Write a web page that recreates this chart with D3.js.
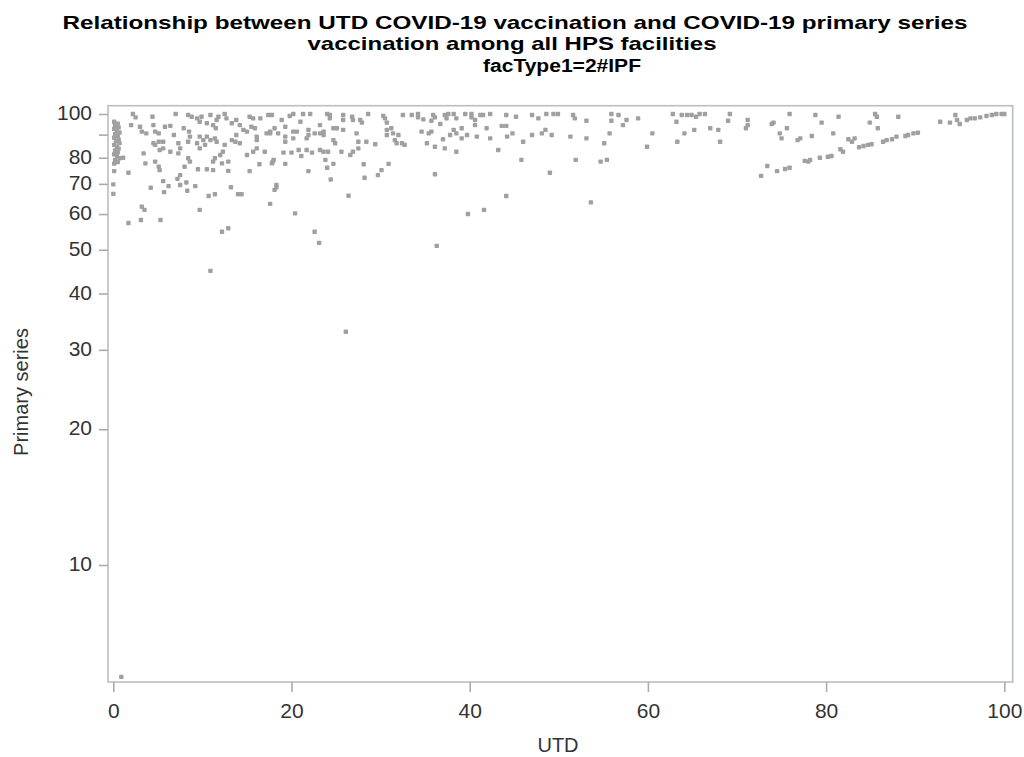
<!DOCTYPE html>
<html>
<head>
<meta charset="utf-8">
<script src="https://cdn.jsdelivr.net/npm/d3@7"></script>
<style>
  html, body { margin: 0; padding: 0; background: #fff; }
  svg { display: block; font-family: "Liberation Sans", Arial, sans-serif; }
</style>
</head>
<body>
<svg id="chart" width="1024" height="757"></svg>
<script>
// Facility-level vaccination percentages: UTD (x) vs primary series (y)
const utd = [
  // UTD near zero
  0.1,0.5,0.2,0.6,0.1,0.4,0.7,0.2,0.5,0.1,
  0.6,0.3,0.7,0.1,0.4,0.6,0.2,0.5,0.1,0.4,
  0.7,0.2,0.5,0.1,1.1,0.1,1.7,0.0,0.0,0.9,
  // low primary series, UTD < 30
  1.7,3.1,5.3,3.2,3.5,4.2,5.6,5.7,6.2,7.2,
  7.5,8.2,8.3,9.2,9.7,10.7,11.4,13.2,14.0,14.4,
  17.6,18.1,18.3,12.2,12.9,10.9,20.4,22.6,23.1,26.1,
  // UTD 2-18
  2.2,2.5,4.4,7.0,8.4,8.8,9.4,9.7,9.9,10.9,
  11.8,12.5,12.7,13.3,13.8,14.2,15.3,15.7,16.5,17.4,
  10.5,11.2,11.6,11.5,2.0,3.0,3.2,3.7,4.5,4.7,
  5.1,5.8,6.4,6.8,7.9,8.5,8.6,8.4,9.7,10.1,
  10.5,10.9,11.4,11.6,10.3,9.4,9.7,12.5,12.3,13.3,
  13.7,13.8,14.2,14.6,15.0,15.5,15.9,16.1,16.1,17.2,
  17.6,18.1,15.7,16.1,17.0,15.0,4.5,5.1,5.6,4.7,
  5.2,5.6,6.4,7.3,7.5,7.3,3.4,3.6,4.7,5.1,
  5.2,8.4,8.6,8.0,7.5,9.5,10.5,11.2,11.2,11.4,
  12.0,12.2,12.9,12.9,15.3,16.4,17.9,18.0,
  // UTD 17-38
  17.8,19.8,20.2,21.3,22.1,24.0,24.3,24.3,25.8,25.8,
  26.8,26.9,28.6,30.3,30.5,32.5,33.5,34.2,34.2,34.8,
  35.9,36.1,37.2,37.4,18.9,21.0,23.2,27.7,27.9,30.7,
  35.7,36.7,17.6,18.5,19.3,19.3,19.3,20.2,20.6,20.2,
  21.9,21.9,21.7,22.6,23.2,23.6,23.6,24.7,25.1,25.8,
  27.3,24.7,24.9,27.5,28.4,29.4,30.7,30.7,31.2,31.4,
  32.0,31.6,31.8,32.4,32.7,34.6,35.4,35.7,35.2,36.1,
  37.0,37.2,37.8,19.1,20.0,20.8,21.1,21.7,22.3,23.2,
  23.6,24.1,23.8,25.6,26.6,26.9,27.5,17.8,19.3,24.7,
  24.0,28.1,30.9,21.9,30.1,29.7,28.2,24.4,36.1,18.3,
  26.4,
  // UTD 36-57
  37.6,38.2,38.5,39.5,40.2,40.2,41.2,41.5,42.3,40.6,
  40.6,44.1,45.2,47.0,47.7,48.6,49.4,49.9,51.6,51.8,
  53.1,55.9,55.9,56.7,38.2,38.5,39.1,39.1,39.7,40.8,
  41.9,42.3,43.6,44.1,44.2,44.8,46.0,47.0,48.1,48.5,
  49.2,51.3,53.1,55.1,55.7,38.5,43.2,45.8,51.9,54.7,
  55.4,49.0,44.1,53.6,39.8,41.6,36.3,
  // UTD 57-78
  57.6,57.2,58.9,60.5,59.9,62.8,63.2,63.8,64.4,64.9,
  65.4,65.8,66.4,64.1,63.3,65.2,67.0,67.9,68.1,69.2,
  69.0,71.2,71.2,71.0,74.1,73.9,75.9,75.6,74.8,75.0,
  76.8,72.7,73.4,74.5,75.4,75.9,77.6,78.0,
  // UTD 77-100
  78.8,79.5,81.4,85.5,85.7,84.9,85.8,88.1,77.1,78.4,
  80.8,82.5,82.9,83.2,83.7,84.2,84.7,85.1,86.4,86.8,
  87.4,87.9,88.9,89.2,89.8,90.3,81.6,81.9,78.2,79.3,
  80.2,80.6,92.8,93.9,94.5,94.7,95.0,95.8,96.2,96.7,
  97.3,98.0,98.6,99.1,99.7,100
];

const primarySeries = [
  96.1,95.2,94.2,93.4,92.6,91.8,91.0,90.2,89.4,88.6,
  87.8,87.0,86.2,85.4,84.6,83.8,83.0,82.2,81.4,80.6,
  79.8,79.0,78.2,77.6,80.0,74.7,74.1,69.8,66.5,5.65,

  57.3,58.2,58.2,62.3,61.3,68.6,71.0,67.1,69.2,71.8,
  69.6,70.5,67.6,69.2,61.3,65.8,66.4,68.8,66.4,66.4,
  63.2,67.9,68.8,54.8,55.8,44.9,60.2,54.8,51.8,32.9,

  100,98.3,98.6,100,99.5,98.6,97.8,96.1,98.6,99.5,
  98.6,100,97.8,95.4,97.0,94.5,98.6,97.8,97.8,99.5,
  95.4,94.5,97.0,93.0,94.5,93.7,91.4,90.6,94.5,91.4,
  90.6,93.7,94.1,89.8,93.0,91.4,89.1,86.8,89.1,87.5,
  89.1,87.5,88.3,86.8,85.4,86.1,83.9,85.4,82.5,87.5,
  86.8,89.8,86.1,92.2,91.4,93.7,93.0,89.1,87.5,90.6,
  91.4,93.0,82.5,83.9,82.5,81.1,86.1,86.8,86.8,85.4,
  83.2,83.9,82.5,86.1,83.9,81.8,81.8,77.7,78.4,76.4,
  75.1,79.8,78.4,76.4,73.2,75.4,75.4,78.4,75.1,79.8,
  81.1,77.7,78.4,74.8,74.7,77.4,78.4,79.1,

  99.5,99.0,100,100,100,100,99.5,97.8,99.5,97.0,
  98.6,97.0,100,99.0,97.8,99.5,99.5,100,98.3,97.3,
  99.5,98.3,99.5,97.8,97.0,96.1,94.5,97.0,95.7,95.7,
  96.6,95.0,90.6,90.6,93.7,89.1,86.8,91.4,91.4,88.3,
  92.2,89.8,88.3,90.6,90.6,91.4,89.8,93.0,93.0,92.2,
  90.6,87.5,86.1,86.8,86.8,85.7,92.2,89.8,93.0,90.6,
  89.8,87.5,86.1,86.1,85.4,91.4,90.6,91.4,86.1,84.6,
  87.9,83.9,89.8,82.1,82.1,83.2,80.7,83.2,82.1,83.2,
  82.5,82.5,79.1,82.5,81.1,82.5,83.9,77.7,77.5,77.5,
  76.0,77.4,77.5,74.7,75.1,73.2,72.2,71.6,73.5,69.6,
  65.9,

  100,100,97.8,100,100,98.3,99.5,99.5,100,97.0,
  94.5,99.5,98.6,99.5,97.8,100,100,100,99.5,97.8,
  96.6,100,96.6,99.5,92.2,90.6,93.0,88.3,89.8,89.1,
  93.0,88.3,94.1,94.1,89.1,90.6,86.8,89.8,90.6,92.2,
  89.8,89.1,88.3,86.1,90.6,82.5,83.2,79.1,79.1,78.4,
  79.1,74.1,65.8,63.7,60.0,61.3,51.0,

  97.0,94.5,97.8,90.6,84.6,100,96.1,99.5,99.5,99.5,
  98.6,100,100,90.6,86.8,92.2,93.0,92.2,86.8,100,
  96.6,97.0,94.5,93.0,95.7,95.0,100,93.0,90.6,88.3,
  87.5,72.9,76.7,74.7,75.5,76.0,78.7,78.4,

  99.5,95.7,98.6,100,98.6,95.7,93.0,98.6,88.3,89.4,
  90.6,87.9,86.8,88.3,84.4,84.9,85.4,85.7,86.8,87.5,
  87.9,89.1,89.4,89.8,90.6,90.9,83.5,82.5,79.1,80.0,
  80.4,80.7,96.1,95.7,99.5,97.0,95.0,97.0,97.8,97.8,
  98.3,99.0,99.5,100,100,100
];

const xTicks = [0, 20, 40, 60, 80, 100];
const yTicks = [10, 20, 30, 40, 50, 60, 70, 80, 90, 100];
const yTickLabels = ["10", "20", "30", "40", "50", "60", "70", "80", "", "100"];

const titleLines = [
  "Relationship between UTD COVID-19 vaccination  and COVID-19 primary series",
  "vaccination among all HPS facilities"
];
const subtitle = "facType1=2#IPF";
const xLabel = "UTD";
const yLabel = "Primary series";

const svg = d3.select("#chart");

// plot frame
const frame = { left: 108, right: 1012.7, top: 105.7, bottom: 682 };

const x = d3.scaleLinear().domain([0, 100]).range([113.3, 1004.3]);
const y = d3.scaleLog().domain([10, 100]).range([565, 114]);

const tickColor = "#a7acb1";

svg.append("rect")
  .attr("x", frame.left).attr("y", frame.top)
  .attr("width", frame.right - frame.left)
  .attr("height", frame.bottom - frame.top)
  .attr("fill", "none")
  .attr("stroke", "#b9bec2")
  .attr("stroke-width", 1.6);

// x axis
const xAxis = svg.append("g")
  .attr("transform", `translate(0,${frame.bottom})`)
  .call(d3.axisBottom(x).tickValues(xTicks).tickSize(10).tickPadding(11).tickFormat(d3.format("d")));
xAxis.select(".domain").remove();
xAxis.selectAll(".tick line").attr("stroke", tickColor).attr("stroke-width", 1.6);
xAxis.selectAll(".tick text")
  .attr("fill", "#333").style("font-size", "21px")
  .style("font-family", "'Liberation Sans', Arial, sans-serif");

// y axis (log)
const yAxis = svg.append("g")
  .attr("transform", `translate(${frame.left},0)`)
  .call(d3.axisLeft(y).tickValues(yTicks).tickSize(9).tickPadding(7)
    .tickFormat((d, i) => yTickLabels[i]));
yAxis.select(".domain").remove();
yAxis.selectAll(".tick line").attr("stroke", tickColor).attr("stroke-width", 1.6);
yAxis.selectAll(".tick text")
  .attr("fill", "#333").attr("dy", "0.27em").style("font-size", "21px")
  .style("font-family", "'Liberation Sans', Arial, sans-serif");

// points as small filled squares
const points = utd.map((u, i) => ({ u, p: primarySeries[i] }));
const s = 4.4;
svg.append("g")
  .selectAll("rect")
  .data(points)
  .join("rect")
  .attr("x", d => x(d.u) - s / 2)
  .attr("y", d => y(d.p) - s / 2)
  .attr("width", s).attr("height", s)
  .attr("rx", 0.8)
  .attr("fill", "#a0a0a0");

// titles
svg.append("text")
  .attr("x", 515).attr("y", 28.5)
  .attr("text-anchor", "middle")
  .attr("textLength", 905).attr("lengthAdjust", "spacingAndGlyphs")
  .style("font-size", "19px").style("font-weight", "bold").attr("fill", "#000")
  .text(titleLines[0]);
svg.append("text")
  .attr("x", 512).attr("y", 50)
  .attr("text-anchor", "middle")
  .attr("textLength", 409).attr("lengthAdjust", "spacingAndGlyphs")
  .style("font-size", "19px").style("font-weight", "bold").attr("fill", "#000")
  .text(titleLines[1]);
svg.append("text")
  .attr("x", 562).attr("y", 71.5)
  .attr("text-anchor", "middle")
  .attr("textLength", 158).attr("lengthAdjust", "spacingAndGlyphs")
  .style("font-size", "18px").style("font-weight", "bold").attr("fill", "#000")
  .text(subtitle);

// axis titles
svg.append("text")
  .attr("x", 558).attr("y", 752)
  .attr("text-anchor", "middle")
  .style("font-size", "20px").attr("fill", "#333")
  .text(xLabel);
svg.append("text")
  .attr("transform", "translate(28,392) rotate(-90)")
  .attr("text-anchor", "middle")
  .style("font-size", "20px").attr("fill", "#333")
  .text(yLabel);
</script>
</body>
</html>
